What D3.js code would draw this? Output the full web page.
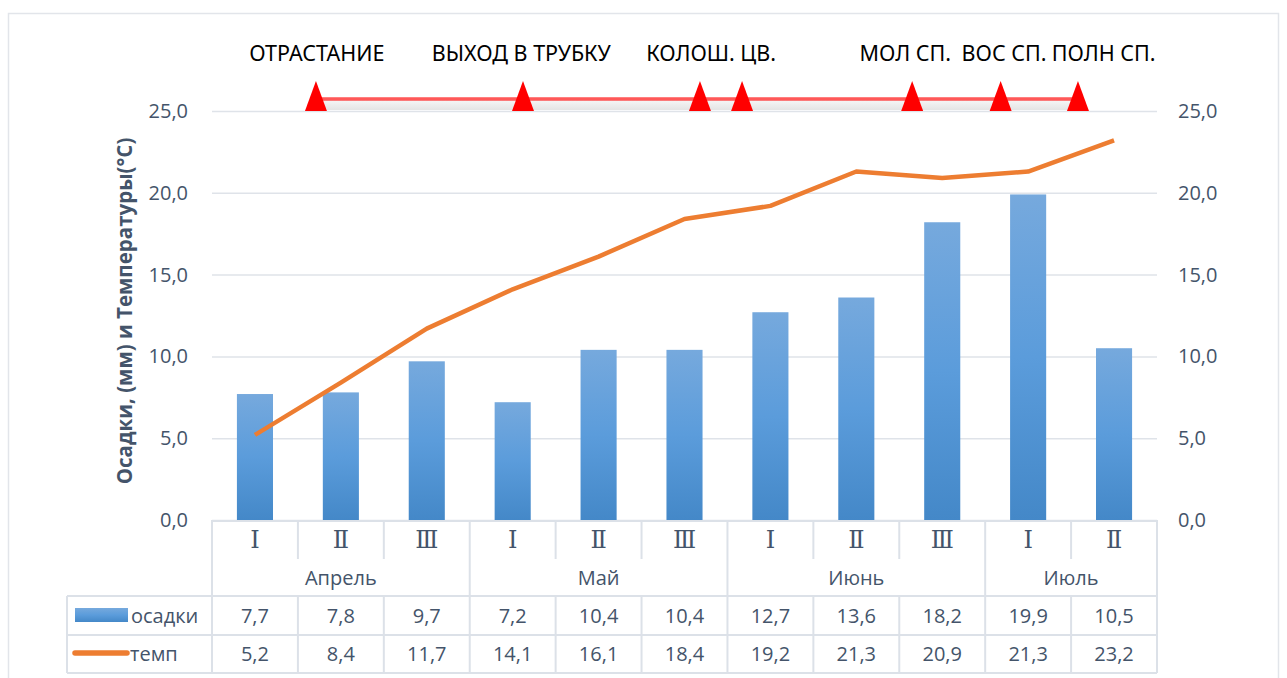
<!DOCTYPE html>
<html lang="ru">
<head>
    <meta charset="UTF-8">
    <title>Осадки и температура</title>
    <script src="https://cdn.jsdelivr.net/npm/d3@7/dist/d3.min.js"></script>
    <style>
        body { margin: 0; background: #fff; }
        text { font-family: "Open Sans", "Noto Sans", sans-serif; }
    </style>
</head>
<body>
    <svg width="1287" height="678" id="mainsvg"></svg>
    <script>
        // данные
        const decades = ['Ⅰ', 'Ⅱ', 'Ⅲ', 'Ⅰ', 'Ⅱ', 'Ⅲ', 'Ⅰ', 'Ⅱ', 'Ⅲ', 'Ⅰ', 'Ⅱ'];
        const months = [
            { name: 'Апрель', from: 0, to: 3 },
            { name: 'Май', from: 3, to: 6 },
            { name: 'Июнь', from: 6, to: 9 },
            { name: 'Июль', from: 9, to: 11 }
        ];
        const osadki = [7.7, 7.8, 9.7, 7.2, 10.4, 10.4, 12.7, 13.6, 18.2, 19.9, 10.5];
        const temp = [5.2, 8.4, 11.7, 14.1, 16.1, 18.4, 19.2, 21.3, 20.9, 21.3, 23.2];
        const yTicks = [0, 5, 10, 15, 20, 25];
        // фазы развития (положение в декадах от начала оси)
        const phaseMarks = [1.21, 3.62, 5.68, 6.17, 8.15, 9.18, 10.08];
        const phaseLabels = ['ОТРАСТАНИЕ', 'ВЫХОД В ТРУБКУ', 'КОЛОШ. ЦВ.', 'МОЛ СП.', 'ВОС СП.', 'ПОЛН СП.'];
        const phaseLabelPos = [1.22, 3.60, 5.81, 8.07, 9.22, 10.38];

        const svg = d3.select('#mainsvg');
        const pLeft = 212, pRight = 1157, pTop = 111, pBottom = 520;
        const textColor = '#44546a';
        const gridColor = '#dfe3e9';
        const fmt = v => d3.format('.1f')(v).replace('.', ',');

        const x = d3.scaleBand().domain(d3.range(decades.length)).range([pLeft, pRight]);
        const xc = d3.scaleLinear().domain([0, decades.length]).range([pLeft, pRight]);
        const y = d3.scaleLinear().domain([0, 25]).range([pBottom, pTop]);
        const bw = x.bandwidth() * 0.42;

        // рамка диаграммы
        svg.append('rect')
            .attr('x', 8.5).attr('y', 13.5).attr('width', 1270).attr('height', 700)
            .attr('fill', 'none').attr('stroke', '#e2e5ea').attr('stroke-width', 1.5);

        const defs = svg.append('defs');
        const grad = defs.append('linearGradient').attr('id', 'barGrad')
            .attr('x1', 0).attr('y1', 0).attr('x2', 0).attr('y2', 1);
        grad.append('stop').attr('offset', '0%').attr('stop-color', '#76a9dd');
        grad.append('stop').attr('offset', '50%').attr('stop-color', '#5b9cdb');
        grad.append('stop').attr('offset', '100%').attr('stop-color', '#4488c8');
        const shadow = defs.append('linearGradient').attr('id', 'shadowGrad')
            .attr('x1', 0).attr('y1', 0).attr('x2', 0).attr('y2', 1);
        shadow.append('stop').attr('offset', '0%').attr('stop-color', '#f6f6f6');
        shadow.append('stop').attr('offset', '100%').attr('stop-color', '#e4e4e4');

        // сетка
        svg.append('g')
            .attr('transform', `translate(${pLeft},0)`)
            .call(d3.axisLeft(y).tickValues(yTicks).tickSize(-(pRight - pLeft)).tickFormat(''))
            .call(g => g.select('.domain').remove())
            .call(g => g.selectAll('line').attr('stroke', gridColor).attr('stroke-width', 1.5));

        // подписи осей
        const axL = svg.append('g')
            .attr('transform', `translate(${pLeft},0)`)
            .call(d3.axisLeft(y).tickValues(yTicks).tickSize(0).tickPadding(24).tickFormat(fmt));
        const axR = svg.append('g')
            .attr('transform', `translate(${pRight},0)`)
            .call(d3.axisRight(y).tickValues(yTicks).tickSize(0).tickPadding(21).tickFormat(fmt));
        [axL, axR].forEach(a => {
            a.select('.domain').remove();
            a.selectAll('text').attr('fill', textColor).attr('font-size', 20)
                .style('font-family', '"Open Sans", sans-serif');
        });

        svg.append('text')
            .attr('transform', `translate(132,311) rotate(-90)`)
            .attr('text-anchor', 'middle')
            .attr('font-size', 20.5).attr('font-weight', 'bold').attr('fill', textColor)
            .text('Осадки, (мм) и Температуры(°С)');

        // фазы
        const pg = svg.append('g');
        const lineY = pTop - 12;
        pg.append('rect')
            .attr('x', xc(phaseMarks[0])).attr('y', lineY + 1)
            .attr('width', xc(phaseMarks[phaseMarks.length - 1]) - xc(phaseMarks[0]))
            .attr('height', pTop - lineY - 2)
            .attr('fill', 'url(#shadowGrad)');
        pg.append('line')
            .attr('x1', xc(phaseMarks[0])).attr('x2', xc(phaseMarks[phaseMarks.length - 1]))
            .attr('y1', lineY).attr('y2', lineY)
            .attr('stroke', '#ff0000').attr('stroke-width', 3);
        pg.append('line')
            .attr('x1', xc(phaseMarks[0])).attr('x2', xc(phaseMarks[phaseMarks.length - 1]))
            .attr('y1', lineY).attr('y2', lineY)
            .attr('stroke', '#ffc4c4').attr('stroke-width', 0.9);
        pg.selectAll('path.tri').data(phaseMarks).join('path')
            .attr('class', 'tri')
            .attr('d', d => `M${xc(d)},${pTop - 30}L${xc(d) + 11},${pTop}L${xc(d) - 11},${pTop}Z`)
            .attr('fill', '#ff0000');
        pg.selectAll('text').data(phaseLabels).join('text')
            .attr('x', (d, i) => xc(phaseLabelPos[i]))
            .attr('y', 61)
            .attr('text-anchor', 'middle')
            .attr('font-size', 21.5).attr('fill', '#000')
            .style('font-family', '"Liberation Sans Narrow", "Noto Sans", sans-serif')
            .text(d => d);

        // столбцы
        svg.append('g').selectAll('rect').data(osadki).join('rect')
            .attr('x', (d, i) => x(i) + (x.bandwidth() - bw) / 2)
            .attr('y', d => y(d))
            .attr('width', bw)
            .attr('height', d => y(0) - y(d))
            .attr('fill', 'url(#barGrad)');

        // линия температуры
        svg.append('path')
            .datum(temp)
            .attr('d', d3.line().x((d, i) => x(i) + x.bandwidth() / 2).y(d => y(d)))
            .attr('fill', 'none')
            .attr('stroke', '#ed7d31')
            .attr('stroke-width', 4.5)
            .attr('stroke-linejoin', 'round');

        // таблица данных
        const tableLine = '#dce1e8';
        const tg = svg.append('g');
        const rowDec = [pBottom, 559], rowMon = [559, 596], rowOs = [596, 635], rowT = [635, 673];
        const legLeft = 67;

        tg.append('line').attr('x1', pLeft).attr('x2', pRight).attr('y1', pBottom + 1).attr('y2', pBottom + 1)
            .attr('stroke', tableLine).attr('stroke-width', 2);
        [rowOs[0], rowT[0], rowT[1]].forEach(yy => {
            tg.append('line').attr('x1', legLeft).attr('x2', pRight).attr('y1', yy).attr('y2', yy)
                .attr('stroke', tableLine).attr('stroke-width', 2);
        });
        // разделители декад
        d3.range(decades.length + 1).forEach(i => {
            const xx = i === decades.length ? pRight : x(i);
            const isMonth = months.some(m => m.from === i) || i === decades.length;
            tg.append('line').attr('x1', xx).attr('x2', xx)
                .attr('y1', pBottom).attr('y2', isMonth ? rowT[1] : rowDec[1])
                .attr('stroke', tableLine).attr('stroke-width', 2);
            if (!isMonth) {
                tg.append('line').attr('x1', xx).attr('x2', xx)
                    .attr('y1', rowOs[0]).attr('y2', rowT[1])
                    .attr('stroke', tableLine).attr('stroke-width', 2);
            }
        });
        tg.append('line').attr('x1', legLeft).attr('x2', legLeft).attr('y1', rowOs[0]).attr('y2', rowT[1])
            .attr('stroke', tableLine).attr('stroke-width', 2);

        const cellText = (xx, yy, t, size) => tg.append('text')
            .attr('x', xx).attr('y', yy).attr('text-anchor', 'middle').attr('dy', '0.35em')
            .attr('font-size', size).attr('fill', textColor).text(t);

        decades.forEach((d, i) => {
            tg.append('text')
                .attr('x', x(i) + x.bandwidth() / 2).attr('y', (rowDec[0] + rowDec[1]) / 2)
                .attr('text-anchor', 'middle').attr('dy', '0.36em')
                .attr('font-size', 24).attr('fill', textColor)
                .style('font-family', '"DejaVu Serif", serif')
                .text(d);
        });
        months.forEach(m => {
            cellText((x(m.from) + (m.to === decades.length ? pRight : x(m.to))) / 2,
                (rowMon[0] + rowMon[1]) / 2, m.name, 20);
        });
        osadki.forEach((v, i) => cellText(x(i) + x.bandwidth() / 2, (rowOs[0] + rowOs[1]) / 2, fmt(v), 20));
        temp.forEach((v, i) => cellText(x(i) + x.bandwidth() / 2, (rowT[0] + rowT[1]) / 2, fmt(v), 20));

        // легенда в таблице
        tg.append('rect').attr('x', 75).attr('y', 608).attr('width', 53).attr('height', 14)
            .attr('fill', 'url(#barGrad)');
        tg.append('text').attr('x', 131).attr('y', (rowOs[0] + rowOs[1]) / 2).attr('dy', '0.35em')
            .attr('font-size', 20).attr('fill', textColor).text('осадки');
        tg.append('line').attr('x1', 75).attr('x2', 127).attr('y1', 653).attr('y2', 653)
            .attr('stroke', '#ed7d31').attr('stroke-width', 5.5).attr('stroke-linecap', 'round');
        tg.append('text').attr('x', 130).attr('y', (rowT[0] + rowT[1]) / 2).attr('dy', '0.35em')
            .attr('font-size', 20).attr('fill', textColor).text('темп');
    </script>
</body>
</html>
